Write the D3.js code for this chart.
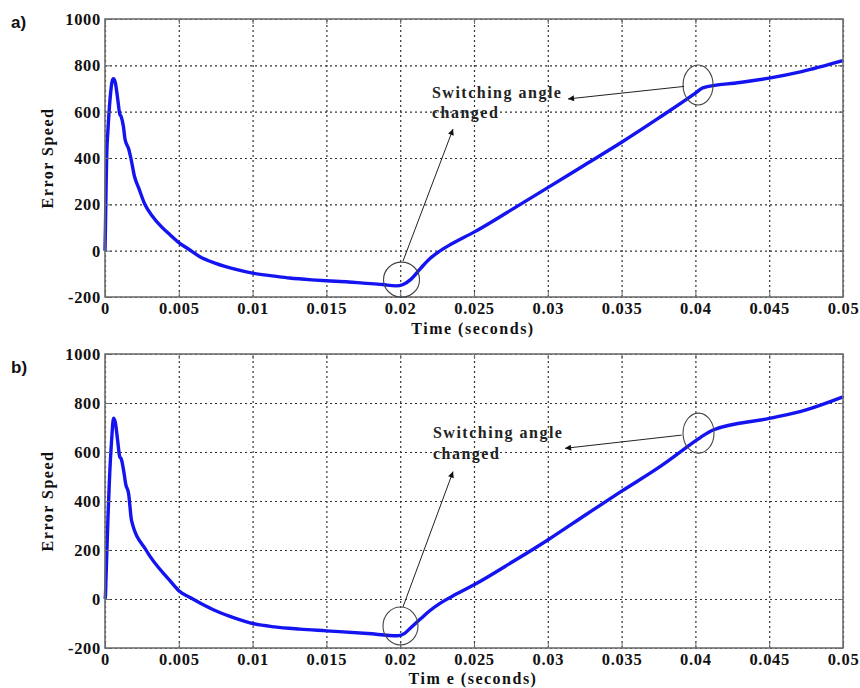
<!DOCTYPE html>
<html>
<head>
<meta charset="utf-8">
<script src="https://cdn.jsdelivr.net/npm/d3@7"></script>
<style>
  html, body { margin: 0; padding: 0; background: #fff; }
  svg { display: block; }
  .tick-label { font-family: "Liberation Serif", "Times New Roman", serif; font-weight: bold; font-size: 16.5px; letter-spacing: 0.7px; fill: #111; }
  .axis-title { font-family: "Liberation Serif", "Times New Roman", serif; font-weight: bold; font-size: 16px; letter-spacing: 1.5px; fill: #111; }
  .annot { font-family: "Liberation Serif", "Times New Roman", serif; font-weight: bold; font-size: 16px; letter-spacing: 1.5px; fill: #222; }
  .panel-label { font-family: "Liberation Sans", "Open Sans", sans-serif; font-weight: bold; font-size: 17px; fill: #111; }
</style>
</head>
<body>
<svg id="chart" width="860" height="688"></svg>
<script>
// ---------------- data ----------------
const xTicks = [0, 0.005, 0.01, 0.015, 0.02, 0.025, 0.03, 0.035, 0.04, 0.045, 0.05];
const xTickLabels = ["0", "0.005", "0.01", "0.015", "0.02", "0.025", "0.03", "0.035", "0.04", "0.045", "0.05"];
const yTicks = [-200, 0, 200, 400, 600, 800, 1000];
const yTickLabels = ["-200", "0", "200", "400", "600", "800", "1000"];

// panel a) time (s) and error speed
const timeA  = [0, 0.00003, 0.00008, 0.00012, 0.0002, 0.00035, 0.00048, 0.00057, 0.0007, 0.00085,
                0.001, 0.0011, 0.00125, 0.00136, 0.0016, 0.00175, 0.002, 0.0023, 0.0027, 0.0032,
                0.0038, 0.0044, 0.005, 0.0057, 0.0064, 0.0075, 0.0088, 0.01, 0.0115, 0.0125,
                0.014, 0.015, 0.0165, 0.0175, 0.0188, 0.0197, 0.0202, 0.0207, 0.0214, 0.022,
                0.0226, 0.0235, 0.025, 0.0275, 0.03, 0.0325, 0.035, 0.0375, 0.04, 0.0405,
                0.043, 0.045, 0.0472, 0.05];
const speedA = [0, 100, 300, 420, 520, 660, 730, 742, 725, 660,
                590, 578, 535, 480, 440, 400, 320, 268, 200, 150,
                105, 69, 35, 5, -25, -55, -80, -97, -110, -118,
                -126, -130, -135, -140, -146, -152, -146, -125, -75, -35,
                -5, 30, 80, 175, 272, 370, 468, 572, 680, 703,
                726, 745, 773, 820];

// panel b) time (s) and error speed
const timeB  = [0, 0.00003, 0.00007, 0.00013, 0.0002, 0.0003, 0.00045, 0.00058, 0.0007, 0.00085,
                0.001, 0.0011, 0.0013, 0.0014, 0.0016, 0.0018, 0.0028, 0.0044, 0.005, 0.0058,
                0.0065, 0.0075, 0.0088, 0.01, 0.0115, 0.0132, 0.015, 0.0178, 0.0198, 0.0203,
                0.0207, 0.0214, 0.022, 0.0228, 0.0238, 0.025, 0.0277, 0.03, 0.0326, 0.035,
                0.0376, 0.04, 0.0404, 0.0412, 0.045, 0.0475, 0.05];
const speedB = [0, 15, 90, 200, 330, 485, 650, 738, 720, 650,
                580, 572, 510, 470, 430, 320, 198, 75, 34, 5,
                -18, -48, -78, -100, -114, -123, -130, -141, -150, -140,
                -118, -80, -48, -14, 20, 58, 155, 241, 345, 440,
                540, 645, 662, 690, 737, 772, 825];

const panelLabels = ["a)", "b)"];
const xTitles = ["Time (seconds)", "Tim e (seconds)"];
const yTitle = "Error Speed";
const annotLines = ["Switching angle", "changed"];

// annotations in data coordinates [time, value]
const annotA = {
  text: [0.02215, 658, 573],
  arrow1: [[0.03923, 709], [0.03137, 655]],
  arrow2: [[0.02019, -45], [0.02358, 525]],
  circles: [[0.02009, -125, 18, 17.5], [0.04018, 715, 15, 20]]
};
const annotB = {
  text: [0.02222, 657, 571],
  arrow1: [[0.03907, 669], [0.03117, 615]],
  arrow2: [[0.02019, -32], [0.02358, 520]],
  circles: [[0.02002, -110, 17.5, 19], [0.04021, 677, 15.5, 20]]
};

// ---------------- drawing ----------------
const svg = d3.select("#chart");
const defs = svg.append("defs");
defs.append("marker")
  .attr("id", "ah").attr("viewBox", "0 0 10 10").attr("refX", 10).attr("refY", 5)
  .attr("markerWidth", 8).attr("markerHeight", 6).attr("markerUnits", "userSpaceOnUse")
  .attr("orient", "auto")
  .append("path").attr("d", "M0,0 L10,5 L0,10 Z").attr("fill", "#111");

const left = 105, right = 843;
const panels = [
  { top: 19, bottom: 297, t: timeA, v: speedA, ann: annotA, label: panelLabels[0], labelY: 28, xt: xTitles[0], xtY: 334 },
  { top: 354, bottom: 648, t: timeB, v: speedB, ann: annotB, label: panelLabels[1], labelY: 373, xt: xTitles[1], xtY: 684 }
];

panels.forEach(p => {
  const x = d3.scaleLinear().domain([0, 0.05]).range([left, right]);
  const y = d3.scaleLinear().domain([-200, 1000]).range([p.bottom, p.top]);
  const g = svg.append("g");
  const w = right - left, h = p.bottom - p.top;

  // grid
  const gx = g.append("g").attr("transform", `translate(0,${p.bottom})`)
    .call(d3.axisBottom(x).tickValues(xTicks).tickSize(-h).tickFormat(""));
  gx.select(".domain").remove();
  gx.selectAll("line").attr("stroke", "#333").attr("stroke-width", 1.2).attr("stroke-dasharray", "2,3");
  const gy = g.append("g").attr("transform", `translate(${left},0)`)
    .call(d3.axisLeft(y).tickValues(yTicks).tickSize(-w).tickFormat(""));
  gy.select(".domain").remove();
  gy.selectAll("line").attr("stroke", "#333").attr("stroke-width", 1.2).attr("stroke-dasharray", "2,3");

  // curve
  const pts = p.t.map((t, i) => [t, p.v[i]]);
  g.append("path").datum(pts)
    .attr("d", d3.line().x(d => x(d[0])).y(d => y(d[1])).curve(d3.curveMonotoneX))
    .attr("fill", "none").attr("stroke", "#1414f0").attr("stroke-width", 3.4)
    .attr("stroke-linejoin", "round");

  // frame
  g.append("rect").attr("x", left).attr("y", p.top).attr("width", w).attr("height", h)
    .attr("fill", "none").attr("stroke", "#6e6e6e").attr("stroke-width", 1.6);

  // inward ticks
  const tb = g.append("g").attr("transform", `translate(0,${p.bottom})`)
    .call(d3.axisTop(x).tickValues(xTicks).tickSize(5).tickFormat(""));
  tb.select(".domain").remove(); tb.selectAll("line").attr("stroke", "#6e6e6e");
  const tt = g.append("g").attr("transform", `translate(0,${p.top})`)
    .call(d3.axisBottom(x).tickValues(xTicks).tickSize(5).tickFormat(""));
  tt.select(".domain").remove(); tt.selectAll("line").attr("stroke", "#6e6e6e");
  const tl = g.append("g").attr("transform", `translate(${left},0)`)
    .call(d3.axisRight(y).tickValues(yTicks).tickSize(5).tickFormat(""));
  tl.select(".domain").remove(); tl.selectAll("line").attr("stroke", "#6e6e6e");
  const tr = g.append("g").attr("transform", `translate(${right},0)`)
    .call(d3.axisLeft(y).tickValues(yTicks).tickSize(5).tickFormat(""));
  tr.select(".domain").remove(); tr.selectAll("line").attr("stroke", "#6e6e6e");

  // tick labels
  g.selectAll(".xl").data(xTicks).enter().append("text")
    .attr("class", "tick-label").attr("text-anchor", "middle")
    .attr("x", d => x(d) + 0.5).attr("y", p.bottom + 17)
    .text((d, i) => xTickLabels[i]);
  g.selectAll(".yl").data(yTicks).enter().append("text")
    .attr("class", "tick-label").attr("text-anchor", "end")
    .attr("x", left - 4).attr("y", d => y(d) + 6)
    .text((d, i) => yTickLabels[i]);

  // axis titles
  g.append("text").attr("class", "axis-title").attr("text-anchor", "middle")
    .attr("x", (left + right) / 2 - 1).attr("y", p.xtY).text(p.xt);
  g.append("text").attr("class", "axis-title").attr("text-anchor", "middle")
    .attr("transform", `translate(53,${(p.top + p.bottom) / 2}) rotate(-90)`).text(yTitle);

  // panel label
  g.append("text").attr("class", "panel-label").attr("x", 11).attr("y", p.labelY).text(p.label);

  // annotations
  const a = p.ann;
  a.circles.forEach(c => {
    g.append("ellipse").attr("cx", x(c[0])).attr("cy", y(c[1])).attr("rx", c[2]).attr("ry", c[3])
      .attr("fill", "none").attr("stroke", "#444").attr("stroke-width", 1.1);
  });
  [a.arrow1, a.arrow2].forEach(ar => {
    g.append("line").attr("x1", x(ar[0][0])).attr("y1", y(ar[0][1]))
      .attr("x2", x(ar[1][0])).attr("y2", y(ar[1][1]))
      .attr("stroke", "#222").attr("stroke-width", 1).attr("marker-end", "url(#ah)");
  });
  g.append("text").attr("class", "annot").attr("x", x(a.text[0])).attr("y", y(a.text[1])).text(annotLines[0]);
  g.append("text").attr("class", "annot").attr("x", x(a.text[0])).attr("y", y(a.text[2])).text(annotLines[1]);
});
</script>
</body>
</html>
